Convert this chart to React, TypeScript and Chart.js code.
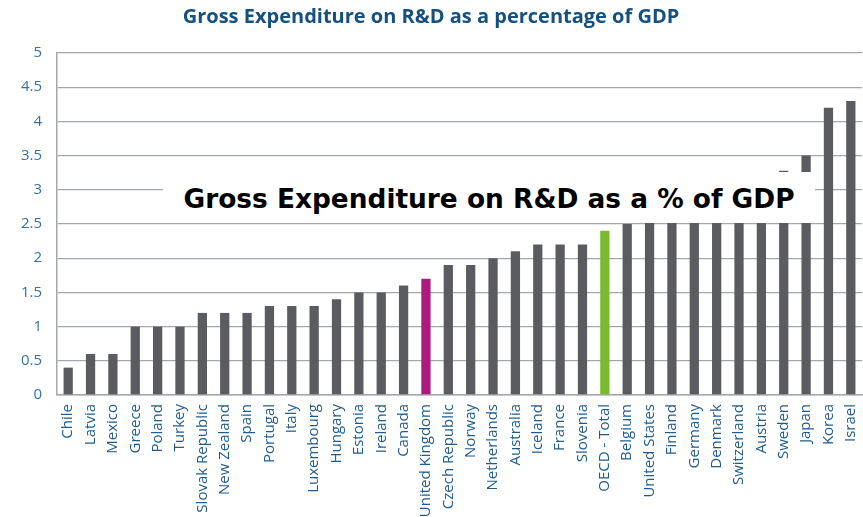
import React, { useEffect, useRef } from "react";
import { Chart, registerables } from "chart.js";

Chart.register(...registerables);

const categories: string[] = [
  "Chile", "Latvia", "Mexico", "Greece", "Poland", "Turkey", "Slovak Republic",
  "New Zealand", "Spain", "Portugal", "Italy", "Luxembourg", "Hungary", "Estonia",
  "Ireland", "Canada", "United Kingdom", "Czech Republic", "Norway", "Netherlands",
  "Australia", "Iceland", "France", "Slovenia", "OECD - Total", "Belgium",
  "United States", "Finland", "Germany", "Denmark", "Switzerland", "Austria",
  "Sweden", "Japan", "Korea", "Israel",
];

const values: number[] = [
  0.4, 0.6, 0.6, 1.0, 1.0, 1.0, 1.2,
  1.2, 1.2, 1.3, 1.3, 1.3, 1.4, 1.5,
  1.5, 1.6, 1.7, 1.9, 1.9, 2.0,
  2.1, 2.2, 2.2, 2.2, 2.4, 2.5,
  2.8, 2.9, 2.9, 3.0, 3.0, 3.1,
  3.28, 3.5, 4.2, 4.3,
];

const highlightUK = "United Kingdom";
const highlightOECD = "OECD - Total";

const chartTitle = "Gross Expenditure on R&D as a percentage of GDP";
const overlayText = "Gross Expenditure on R&D as a % of GDP";

const yMin = 0;
const yMax = 5;
const yStep = 0.5;

export default function App() {
  const canvasRef = useRef<HTMLCanvasElement | null>(null);

  useEffect(() => {
    if (!canvasRef.current) return;
    const colors = categories.map((c) =>
      c === highlightUK ? "#AC1A80" : c === highlightOECD ? "#7BB935" : "#5B5C60"
    );
    const chart = new Chart(canvasRef.current, {
      type: "bar",
      data: {
        labels: categories,
        datasets: [
          {
            data: values,
            backgroundColor: colors,
            borderWidth: 0,
            barPercentage: 0.56,
            categoryPercentage: 0.74,
          },
        ],
      },
      options: {
        animation: false,
        responsive: false,
        maintainAspectRatio: false,
        layout: { padding: { left: 0, right: 1, top: 0, bottom: 0 } },
        plugins: {
          legend: { display: false },
          tooltip: { enabled: false },
          title: {
            display: true,
            text: chartTitle,
            color: "#15507F",
            font: { family: "Open Sans", size: 20, weight: "bold" },
            padding: { top: 5, bottom: 24 },
          },
        },
        scales: {
          x: {
            grid: { display: false, drawTicks: false },
            border: { display: true, color: "#A3A7AE", width: 1.5 },
            ticks: {
              color: "#1F5B8E",
              font: { family: "Open Sans", size: 15 },
              maxRotation: 90,
              minRotation: 90,
              autoSkip: false,
              padding: 9,
            },
            afterFit: (scale: any) => {
              scale.height = 122;
              scale.paddingLeft = 0;
              scale.paddingRight = 0;
            },
          },
          y: {
            min: yMin,
            max: yMax,
            grid: { color: "#A3A7AE", lineWidth: 1.3, drawTicks: false },
            border: { display: true, color: "#A3A7AE", width: 1.5 },
            ticks: {
              stepSize: yStep,
              color: "#3471A3",
              font: { family: "Open Sans", size: 15 },
              padding: 15,
              callback: (v: any) => `${+v}`,
            },
            afterFit: (scale: any) => {
              scale.width = 57;
            },
          },
        },
      },
    });
    return () => chart.destroy();
  }, []);

  return (
    <div
      style={{
        position: "absolute",
        left: 0,
        top: 0,
        width: 863,
        height: 517,
        background: "#ffffff",
      }}
    >
      <canvas ref={canvasRef} width={863} height={517} style={{ display: "block" }} />
      <div
        style={{
          position: "absolute",
          left: 163,
          top: 172,
          width: 652,
          height: 51,
          background: "#ffffff",
          boxSizing: "border-box",
          paddingTop: 12,
          textAlign: "center",
          fontFamily: "'DejaVu Sans', sans-serif",
          fontWeight: "bold",
          fontSize: 26.4,
          lineHeight: "30px",
          color: "#000000",
          whiteSpace: "nowrap",
        }}
      >
        {overlayText}
      </div>
    </div>
  );
}
